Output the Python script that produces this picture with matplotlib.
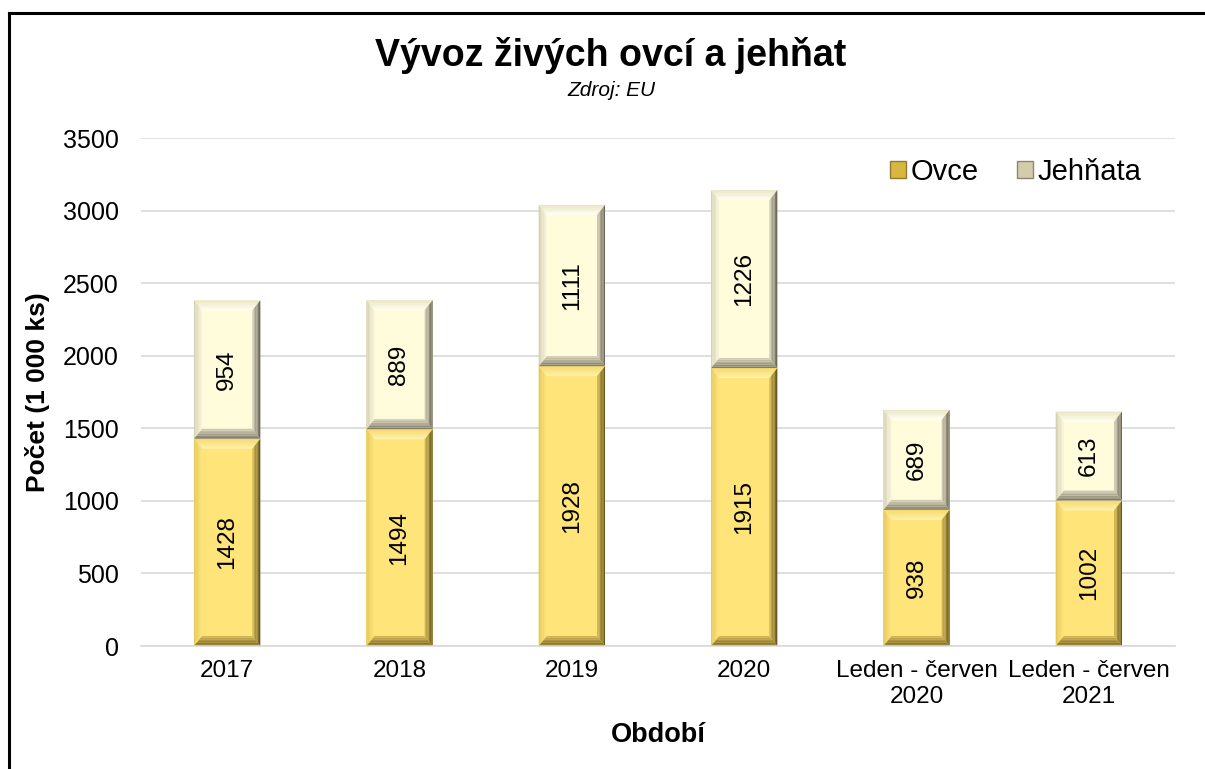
import matplotlib
matplotlib.use("Agg")
import matplotlib.pyplot as plt
from matplotlib.patches import Polygon, Rectangle, Patch
from matplotlib.colors import to_rgb
import numpy as np

plt.rcParams['font.family'] = ['Liberation Sans', 'DejaVu Sans']

categories = ["2017", "2018", "2019", "2020", "Leden - červen\n2020", "Leden - červen\n2021"]
ovce = [1428, 1494, 1928, 1915, 938, 1002]
jehnata = [954, 889, 1111, 1226, 689, 613]
series_names = ["Ovce", "Jehňata"]
yticks = [0, 500, 1000, 1500, 2000, 2500, 3000, 3500]

W, H = 1205, 769
fig = plt.figure(figsize=(W / 100, H / 100), dpi=100)
ax_l, ax_r, ax_b, ax_t = 141, 1175, 646, 138
ax = fig.add_axes([ax_l / W, 1 - ax_b / H, (ax_r - ax_l) / W, (ax_b - ax_t) / H])

x = np.arange(len(categories))
bw = 0.385
ax.set_xlim(-0.5, len(categories) - 0.5)
ax.set_ylim(0, 3500)

px_x = len(categories) / (ax_r - ax_l)
px_y = 3500 / (ax_b - ax_t)
bev_x, bev_y = 8, 10

styles = {
    "Ovce": dict(face="#FFE47A",
                 top=("#F5D86A", "#FFF3B2"), left=("#E2C65E", "#FFE47A"),
                 right=("#5E4F1A", "#D9BE5C"), bottom=("#6E5D22", "#D6BB58")),
    "Jehňata": dict(face="#FFFCDC",
                    top=("#E8E3C2", "#FFFFF6"), left=("#D2CEB4", "#F8F5DA"),
                    right=("#625E4E", "#D6D2BA"), bottom=("#7A7565", "#D6D1B6")),
}

def mix(c1, c2, t):
    a, b = np.array(to_rgb(c1)), np.array(to_rgb(c2))
    return tuple(a + (b - a) * t)

def bevel_bar(xc, y0, h, st, z=2, k=6):
    l, r = xc - bw / 2, xc + bw / 2
    b, t = y0, y0 + h
    dx, dy = bev_x * px_x, bev_y * px_y
    ax.add_patch(Rectangle((l, b), r - l, t - b, facecolor=st["face"], edgecolor="none", zorder=z))
    for i in range(k):
        f0, f1 = i / k, (i + 1) / k
        col = lambda pair: mix(pair[0], pair[1], (i + 0.5) / k)
        ax.add_patch(Polygon([(l + f0 * dx, t - f0 * dy), (r - f0 * dx, t - f0 * dy),
                              (r - f1 * dx, t - f1 * dy), (l + f1 * dx, t - f1 * dy)], closed=True,
                             facecolor=col(st["top"]), edgecolor="none", zorder=z + 0.1))
        ax.add_patch(Polygon([(l + f0 * dx, b + f0 * dy), (r - f0 * dx, b + f0 * dy),
                              (r - f1 * dx, b + f1 * dy), (l + f1 * dx, b + f1 * dy)], closed=True,
                             facecolor=col(st["bottom"]), edgecolor="none", zorder=z + 0.1))
        ax.add_patch(Polygon([(l + f0 * dx, b + f0 * dy), (l + f0 * dx, t - f0 * dy),
                              (l + f1 * dx, t - f1 * dy), (l + f1 * dx, b + f1 * dy)], closed=True,
                             facecolor=col(st["left"]), edgecolor="none", zorder=z + 0.1))
        ax.add_patch(Polygon([(r - f0 * dx, b + f0 * dy), (r - f0 * dx, t - f0 * dy),
                              (r - f1 * dx, t - f1 * dy), (r - f1 * dx, b + f1 * dy)], closed=True,
                             facecolor=col(st["right"]), edgecolor="none", zorder=z + 0.1))

# invisible bars for library-driven positions
ax.bar(x, ovce, width=bw, color="none", zorder=1)
ax.bar(x, jehnata, width=bw, bottom=ovce, color="none", zorder=1)

for xi, o, j in zip(x, ovce, jehnata):
    bevel_bar(xi, 0, o, styles["Ovce"])
    bevel_bar(xi, o, j, styles["Jehňata"])
    ax.text(xi, o / 2, f"{o}", rotation=90, ha="center", va="center", fontsize=17.5, zorder=5)
    ax.text(xi, o + j / 2, f"{j}", rotation=90, ha="center", va="center", fontsize=17.5, zorder=5)

ax.set_yticks(yticks)
ax.set_yticklabels([str(v) for v in yticks], fontsize=18)
ax.set_xticks(x)
ax.set_xticklabels(categories, fontsize=17.5, linespacing=1.25)
ax.tick_params(axis="y", length=0, pad=16)
ax.tick_params(axis="x", length=0, pad=10)
ax.grid(axis="y", color="#D9D9D9", linewidth=1.2, zorder=0)
ax.set_axisbelow(True)
for s in ["top", "right", "left"]:
    ax.spines[s].set_visible(False)
ax.spines["bottom"].set_color("#D9D9D9")
ax.spines["bottom"].set_linewidth(1.2)

ax.set_ylabel("Počet (1 000 ks)", fontsize=19, fontweight="bold")
ax.yaxis.set_label_coords((38 - ax_l) / (ax_r - ax_l), 0.5)
ax.yaxis.label.set_va("center")
ax.set_xlabel("Období", fontsize=19.5, fontweight="bold")
ax.xaxis.set_label_coords(0.5, -(735 - ax_b) / (ax_b - ax_t))
ax.xaxis.label.set_va("center")

fig.text(611 / W, 1 - 56 / H, "Vývoz živých ovcí a jehňat", ha="center", va="center",
         fontsize=27, fontweight="bold")
fig.text(611 / W, 1 - 90 / H, "Zdroj: EU", ha="center", va="center", fontsize=15, style="italic")

handles = [Patch(facecolor="#D8B640", edgecolor="#8F7A30", label=series_names[0]),
           Patch(facecolor="#D2CCAA", edgecolor="#8C8770", label=series_names[1])]
ax.legend(handles=handles, loc="center right",
          bbox_to_anchor=((1141 - ax_l) / (ax_r - ax_l), (ax_b - 172) / (ax_b - ax_t)),
          ncol=2, frameon=False, fontsize=21, handlelength=0.55, handleheight=0.55,
          handletextpad=0.15, columnspacing=1.3, borderpad=0, borderaxespad=0)

fig.add_artist(plt.Line2D([9 / W, 9 / W], [0, 1 - 13 / H], color="black", linewidth=2.2,
                          transform=fig.transFigure))
fig.add_artist(plt.Line2D([9 / W, 1], [1 - 13 / H, 1 - 13 / H], color="black", linewidth=2.2,
                          transform=fig.transFigure))

fig.savefig("out.png", dpi=100)
